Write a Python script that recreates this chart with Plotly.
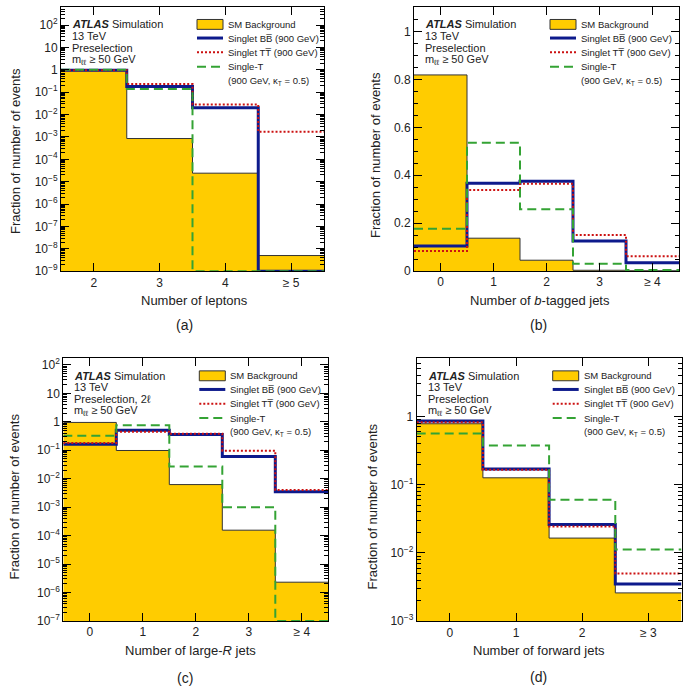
import plotly.graph_objects as go

W, H = 695, 699

# ---------------- data ----------------
# (a) Number of leptons
lep_cats = [2, 3, 4, 5]
lep_labels = ["2", "3", "4", "≥ 5"]
lep_bkg = [0.93, 8.5e-4, 2.4e-5, 5.0e-9]
lep_bb = [0.95, 0.18, 0.020, 0.0]
lep_tt = [0.95, 0.23, 0.028, 1.7e-3]
lep_st = [1.0, 0.14, 0.0, 0.0]

# (b) Number of b-tagged jets
bt_cats = [0, 1, 2, 3, 4]
bt_labels = ["0", "1", "2", "3", "≥ 4"]
bt_bkg = [0.819, 0.137, 0.045, 0.003, 0.001]
bt_bb = [0.104, 0.367, 0.375, 0.125, 0.034]
bt_tt = [0.084, 0.338, 0.364, 0.150, 0.062]
bt_st = [0.176, 0.536, 0.258, 0.030, 0.004]

# (c) Number of large-R jets
lr_cats = [0, 1, 2, 3, 4]
lr_labels = ["0", "1", "2", "3", "≥ 4"]
lr_bkg = [0.95, 0.098, 6.2e-3, 1.55e-4, 2.3e-6]
lr_bb = [0.164, 0.50, 0.36, 0.060, 3.5e-3]
lr_tt = [0.18, 0.45, 0.38, 0.096, 4.0e-3]
lr_st = [0.32, 0.75, 0.027, 1.0e-3, 0.0]

# (d) Number of forward jets
fw_cats = [0, 1, 2, 3]
fw_labels = ["0", "1", "2", "≥ 3"]
fw_bkg = [0.78, 0.126, 0.0165, 2.6e-3]
fw_bb = [0.855, 0.17, 0.026, 3.5e-3]
fw_tt = [0.82, 0.165, 0.0244, 5.0e-3]
fw_st = [0.56, 0.376, 0.060, 0.0112]

# ---------------- styles ----------------
FONT = "Liberation Sans, Arial, Helvetica, sans-serif"
YELLOW = "#FFCC00"
BLUE = "#0d1a8c"
RED = "#cc1111"
GREEN = "#34a334"
OUTLINE = "#333333"

# panel pixel boxes: left, right, top, bottom
panels = {
    "a": dict(l=61, r=324, t=5, b=272.7),
    "b": dict(l=414, r=679, t=5, b=272.5),
    "c": dict(l=63.3, r=328.3, t=361, b=627),
    "d": dict(l=416.7, r=681.5, t=361, b=627.3),
}


def px(x):
    return x / W


def py(y):
    return 1 - y / H


def sup_label(k):
    if k == 0:
        return "1"
    if k == 1:
        return "10"
    s = str(k).replace("-", "−")
    return "10<sup>" + s + "</sup>"


fig = go.Figure()

specs = [
    ("a", "x", "y", lep_cats, lep_labels, lep_bkg, lep_bb, lep_tt, lep_st, "log", (-9, 2.81),
     "Number of leptons", "(a)", "Preselection"),
    ("b", "x2", "y2", bt_cats, bt_labels, bt_bkg, bt_bb, bt_tt, bt_st, "linear", (0, 1.103),
     "Number of <i>b</i>-tagged jets", "(b)", "Preselection"),
    ("c", "x3", "y3", lr_cats, lr_labels, lr_bkg, lr_bb, lr_tt, lr_st, "log", (-7, 2.23),
     "Number of large-<i>R</i> jets", "(c)", "Preselection, 2ℓ"),
    ("d", "x4", "y4", fw_cats, fw_labels, fw_bkg, fw_bb, fw_tt, fw_st, "log", (-3, 0.85),
     "Number of forward jets", "(d)", "Preselection"),
]

title_pos = {
    "a": dict(yt=(15, 151), xt=(194.5, 302), lab=(184, 327)),
    "b": dict(yt=(375, 155), xt=(540, 302), lab=(538, 327)),
    "c": dict(yt=(15, 501), xt=(190.5, 657), lab=(185, 685)),
    "d": dict(yt=(372, 511), xt=(538.7, 657), lab=(538, 684)),
}

annotations = []
shapes = []
layout_axes = {}

for (key, xa, ya, cats, labels, bkg, bb, tt, st, ytype, yr, xtitle, plab, presel) in specs:
    p = panels[key]
    ymin_val = 10 ** yr[0] if ytype == "log" else 0.0

    edges = [c - 0.5 for c in cats] + [cats[-1] + 0.5]

    def step(vals):
        v = [max(x, ymin_val) if ytype == "log" else x for x in vals]
        return edges, v + [v[-1]]

    # background fill as a closed step polygon down to the axis floor
    fx, fy = [], []
    for i, v in enumerate(bkg):
        fx += [edges[i], edges[i + 1]]
        fy += [v, v]
    fx += [edges[-1], edges[0]]
    fy += [ymin_val, ymin_val]
    fig.add_trace(go.Scatter(x=fx, y=fy, mode="lines", fill="toself", fillcolor=YELLOW,
                             line=dict(width=0, color=YELLOW),
                             xaxis=xa, yaxis=ya, showlegend=False, hoverinfo="skip"))
    ex, ey = step(bkg)
    fig.add_trace(go.Scatter(x=ex, y=ey, mode="lines", line=dict(color=OUTLINE, width=1, shape="hv"),
                             xaxis=xa, yaxis=ya, showlegend=False, hoverinfo="skip"))
    ex, ey = step(bb)
    fig.add_trace(go.Scatter(x=ex, y=ey, mode="lines", line=dict(color=BLUE, width=3, shape="hv"),
                             xaxis=xa, yaxis=ya, showlegend=False))
    ex, ey = step(tt)
    fig.add_trace(go.Scatter(x=ex, y=ey, mode="lines",
                             line=dict(color=RED, width=2, shape="hv", dash="2px,2px"),
                             xaxis=xa, yaxis=ya, showlegend=False))
    ex, ey = step(st)
    fig.add_trace(go.Scatter(x=ex, y=ey, mode="lines",
                             line=dict(color=GREEN, width=2, shape="hv", dash="9px,5px"),
                             xaxis=xa, yaxis=ya, showlegend=False))

    xname = "xaxis" if xa == "x" else "xaxis" + xa[1:]
    yname = "yaxis" if ya == "y" else "yaxis" + ya[1:]

    layout_axes[xname] = dict(
        domain=[px(p["l"]), px(p["r"])], anchor=ya, range=[edges[0], edges[-1]],
        tickmode="array", tickvals=cats, ticktext=labels,
        ticks="inside", ticklen=8, tickwidth=1, tickcolor="black",
        showline=True, linecolor="black", linewidth=1, mirror="allticks",
        showgrid=False, zeroline=False,
        tickfont=dict(family=FONT, size=12, color="#222"),
    )
    if ytype == "log":
        lo, hi = yr[0], int(yr[1]) + 1
        major = [10 ** k for k in range(lo, hi) if k <= yr[1]]
        mtext = [sup_label(k) for k in range(lo, hi) if k <= yr[1]]
        minor_vals = [m * 10 ** k for k in range(lo, hi) for m in range(2, 10)
                      if m * 10 ** k <= 10 ** yr[1]]
        layout_axes[yname] = dict(
            type="log", domain=[py(p["b"]), py(p["t"])], anchor=xa, range=list(yr),
            tickmode="array", tickvals=major, ticktext=mtext,
            minor=dict(tickmode="array", tickvals=minor_vals, ticks="inside", ticklen=4,
                       tickcolor="black", showgrid=False),
            ticks="inside", ticklen=8, tickwidth=1, tickcolor="black",
            showline=True, linecolor="black", linewidth=1, mirror="allticks",
            showgrid=False, zeroline=False,
            tickfont=dict(family=FONT, size=12, color="#222"),
        )
    else:
        layout_axes[yname] = dict(
            domain=[py(p["b"]), py(p["t"])], anchor=xa, range=list(yr),
            tickmode="linear", tick0=0, dtick=0.2,
            minor=dict(dtick=0.05, ticks="inside", ticklen=4, tickcolor="black", showgrid=False),
            ticks="inside", ticklen=8, tickwidth=1, tickcolor="black",
            showline=True, linecolor="black", linewidth=1, mirror="allticks",
            showgrid=False, zeroline=False,
            tickfont=dict(family=FONT, size=12, color="#222"),
        )

    tp = title_pos[key]
    annotations.append(dict(x=px(tp["yt"][0]), y=py(tp["yt"][1]), xref="paper", yref="paper",
                            text="Fraction of number of events", textangle=-90, showarrow=False,
                            font=dict(family=FONT, size=13, color="#222"),
                            xanchor="center", yanchor="middle"))
    annotations.append(dict(x=px(tp["xt"][0]), y=py(tp["xt"][1]), xref="paper", yref="paper",
                            text=xtitle, showarrow=False,
                            font=dict(family=FONT, size=13, color="#222"),
                            xanchor="center", yanchor="middle"))
    annotations.append(dict(x=px(tp["lab"][0]), y=py(tp["lab"][1]), xref="paper", yref="paper",
                            text=plab, showarrow=False,
                            font=dict(family=FONT, size=14, color="#222"),
                            xanchor="center", yanchor="middle"))

    # ATLAS label block
    top = p["t"]
    lx = p["l"] + 10
    lines = ["<b><i>ATLAS</i></b> Simulation", "13 TeV", presel, "m<sub>ℓℓ</sub> ≥ 50 GeV"]
    offs = [17.5, 29.5, 41.5, 53.5]
    for t, o in zip(lines, offs):
        annotations.append(dict(x=px(lx), y=py(top + o), xref="paper", yref="paper", text=t,
                                showarrow=False, xanchor="left", yanchor="middle",
                                borderpad=0,
                                font=dict(family=FONT, size=11, color="#222")))

    # legend
    sx0 = p["l"] + 136
    sx1 = sx0 + 26
    tx = sx1 + 4
    rows = [17.7, 31.5, 46, 60.5, 75]
    shapes.append(dict(type="rect", xref="paper", yref="paper",
                       x0=px(sx0), x1=px(sx1), y0=py(top + rows[0] - 5), y1=py(top + rows[0] + 5),
                       fillcolor=YELLOW, line=dict(color=OUTLINE, width=1)))
    shapes.append(dict(type="line", xref="paper", yref="paper",
                       x0=px(sx0), x1=px(sx1), y0=py(top + rows[1]), y1=py(top + rows[1]),
                       line=dict(color=BLUE, width=3)))
    shapes.append(dict(type="line", xref="paper", yref="paper",
                       x0=px(sx0), x1=px(sx1), y0=py(top + rows[2]), y1=py(top + rows[2]),
                       line=dict(color=RED, width=2, dash="2px,2px")))
    shapes.append(dict(type="line", xref="paper", yref="paper",
                       x0=px(sx0), x1=px(sx1), y0=py(top + rows[3]), y1=py(top + rows[3]),
                       line=dict(color=GREEN, width=2, dash="9px,5px")))
    leg_texts = ["SM Background", "Singlet BB\u0305 (900 GeV)", "Singlet TT\u0305 (900 GeV)",
                 "Single-T", "(900 GeV, κ<sub>T</sub> = 0.5)"]
    for t, o in zip(leg_texts, rows):
        annotations.append(dict(x=px(tx), y=py(top + o), xref="paper", yref="paper", text=t,
                                showarrow=False, xanchor="left", yanchor="middle",
                                borderpad=0,
                                font=dict(family=FONT, size=9.5, color="#222")))

fig.update_layout(
    width=W, height=H, autosize=False,
    margin=dict(l=0, r=0, t=0, b=0),
    paper_bgcolor="white", plot_bgcolor="white",
    showlegend=False,
    annotations=annotations, shapes=shapes,
    **layout_axes,
)

fig.write_html("out.html")
